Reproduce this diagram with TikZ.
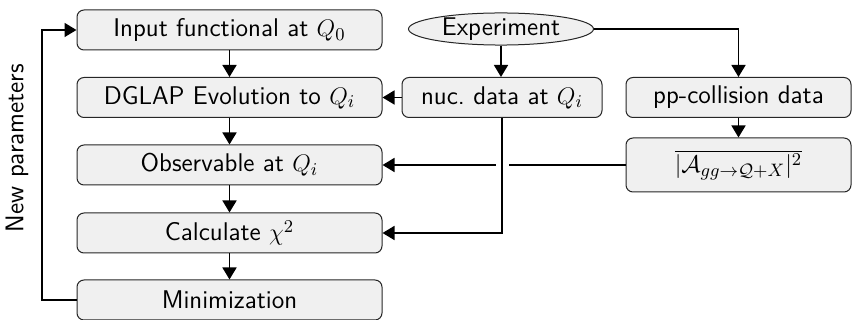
\documentclass[tikz,border=0pt]{standalone}
\usetikzlibrary{shapes.geometric,arrows.meta,calc}
\definecolor{boxfill}{RGB}{240,240,240}
\begin{document}
\begin{tikzpicture}[x=0.5pt,y=-0.5pt,
  font=\sffamily\fontsize{12.8}{15}\selectfont,
  box/.style={draw=black!85, line width=0.5pt, fill=boxfill, rounded corners=3.5pt, minimum height=20pt, inner sep=1.5pt, align=center},
  lbox/.style={box, minimum width=152.5pt},
  ell/.style={draw=black!85, line width=0.5pt, fill=boxfill, ellipse, minimum width=92.5pt, minimum height=16pt, inner sep=0pt},
  conn/.style={line width=0.8pt, -{Triangle[length=6pt,width=7pt]}},
  plain/.style={line width=0.8pt}]
\useasboundingbox (0,0) rectangle (852,320);
\node[lbox] (in) at (229.5,30) {Input functional at $Q_0$};
\node[lbox] (dg) at (229.5,97.5) {DGLAP Evolution to $Q_i$};
\node[lbox] (ob) at (229.5,165) {Observable at $Q_i$};
\node[lbox] (ch) at (229.5,233) {Calculate $\chi^2$};
\node[lbox] (mi) at (229.5,300) {Minimization};
\node[ell] (ex) at (501,29) {Experiment};
\node[box, minimum width=100pt] (nu) at (502,97.5) {nuc.\ data at $Q_i$};
\node[box, minimum width=112.5pt] (pp) at (738.5,97.5) {pp-collision data};
\node[box, minimum width=112.5pt, minimum height=27pt] (am) at (738.5,165) {$\overline{|\mathcal{A}_{gg\to\mathcal{Q}+X}|^2}$};
\node[rotate=90] (np) at (17,148) {New parameters};
\coordinate (lp) at (42,165);
\draw[conn] (in) -- (dg);
\draw[conn] (dg) -- (ob);
\draw[conn] (ob) -- (ch);
\draw[conn] (ch) -- (mi);
\draw[conn] (mi.west) -| (lp) |- (in.west);
\draw[conn] (ex.south) -- (ex.south |- nu.north);
\draw[conn] (ex.east) -| (pp.north);
\draw[conn] (pp) -- (am);
\draw[conn] (nu) -- (dg);
\draw[conn] (nu.south) |- (ch.east);
\coordinate (gr) at ($(nu.south |- ob.east)+(6.5,0)$);
\coordinate (gl) at ($(nu.south |- ob.east)+(-6.5,0)$);
\draw[plain] (am.west) -- (gr);
\draw[conn] (gl) -- (ob.east);
\end{tikzpicture}
\end{document}
